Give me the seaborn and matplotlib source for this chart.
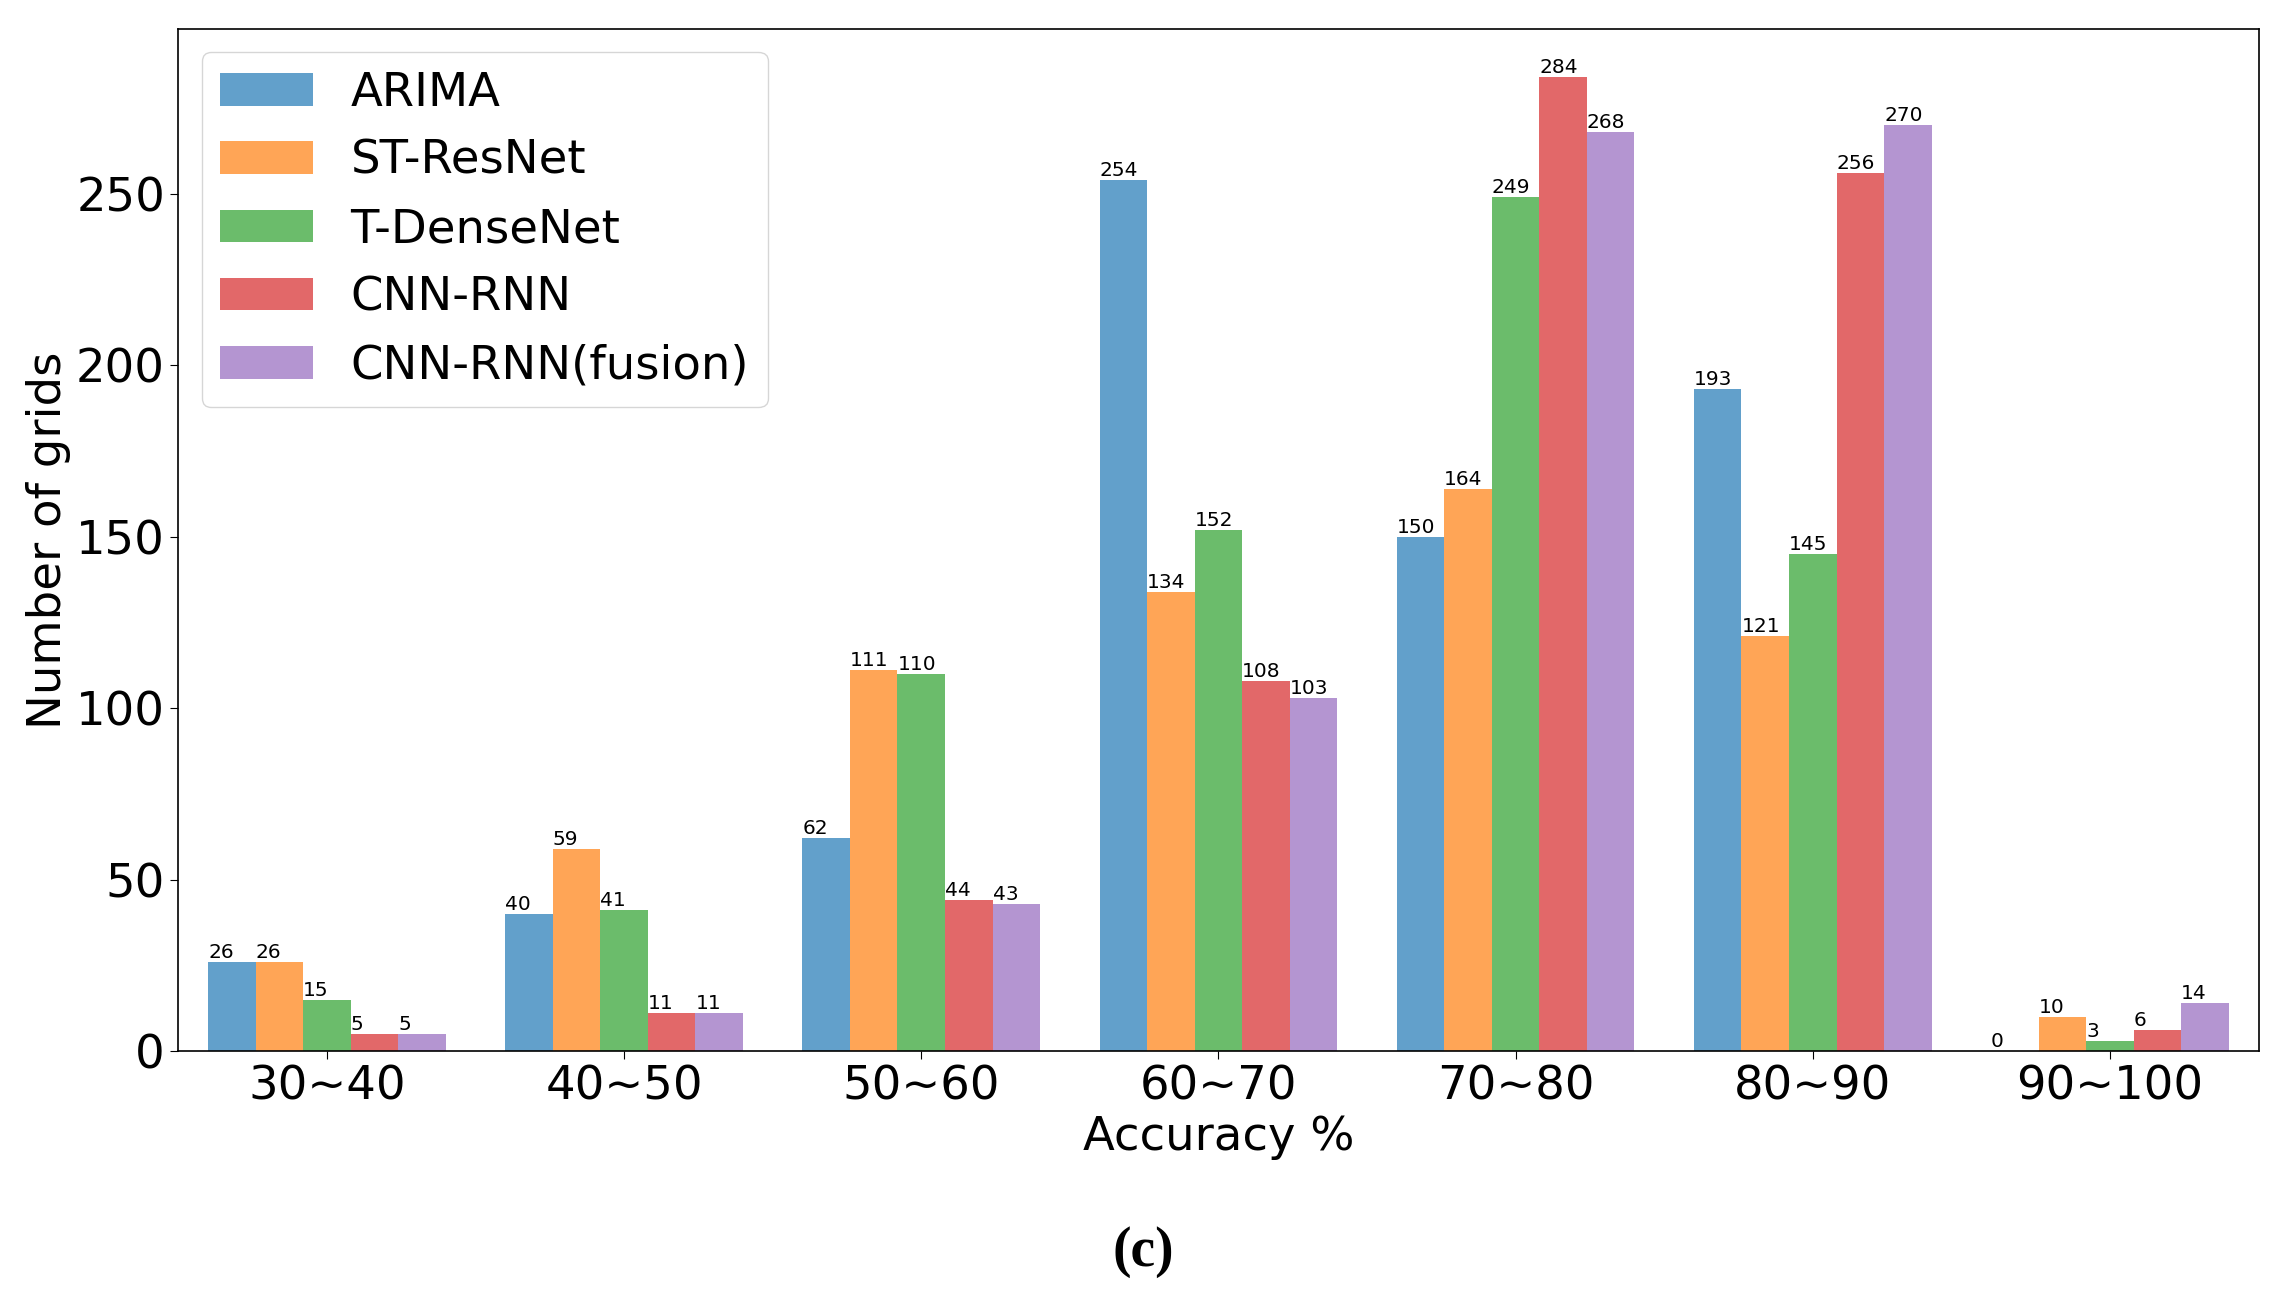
import numpy as np
import pandas as pd
import matplotlib
matplotlib.use("Agg")
import matplotlib.pyplot as plt
import seaborn as sns

# ------------------------------
# Data
# ------------------------------
bins = ['30~40', '40~50', '50~60', '60~70', '70~80', '80~90', '90~100']
models = ['ARIMA', 'ST-ResNet', 'T-DenseNet', 'CNN-RNN', 'CNN-RNN(fusion)']

arima = [26, 40, 62, 254, 150, 193, 0]
st_resnet = [26, 59, 111, 134, 164, 121, 10]
t_densenet = [15, 41, 110, 152, 249, 145, 3]
cnn_rnn = [5, 11, 44, 108, 284, 256, 6]
cnn_rnn_fusion = [5, 11, 43, 103, 268, 270, 14]

series = [arima, st_resnet, t_densenet, cnn_rnn, cnn_rnn_fusion]
rows = []
for m, vals in zip(models, series):
    for b, v in zip(bins, vals):
        rows.append({'bin': b, 'model': m, 'count': v})
df = pd.DataFrame(rows)

# tab10 colours drawn at alpha 0.7 over white
palette = [tuple(0.7 * np.array(c) + 0.3) for c in sns.color_palette("tab10", 5)]

# ------------------------------
# Plot
# ------------------------------
fig = plt.figure(figsize=(22.86, 13.04), dpi=100)
ax = fig.add_axes([0.078, 0.194, 0.91, 0.784])

sns.barplot(data=df, x='bin', y='count', hue='model', hue_order=models,
            order=bins, palette=palette, saturation=1, errorbar=None,
            width=0.8, linewidth=0, ax=ax)

for cont in ax.containers:
    for bar in cont:
        h = bar.get_height()
        ax.text(bar.get_x(), h, str(int(round(h))), ha='left', va='bottom', fontsize=14.5)

ax.set_xlim(-0.5, len(bins) - 0.5)
ax.set_ylim(0, 298.2)
ax.set_xlabel("Accuracy %", fontsize=33.5)
ax.set_ylabel("Number of grids", fontsize=33.5)
ax.tick_params(axis='both', labelsize=33.5, length=6)
ax.set_yticks([0, 50, 100, 150, 200, 250])

for s in ax.spines.values():
    s.set_color('black')
    s.set_linewidth(1.2)

ax.legend(loc='upper left', fontsize=33.5, title=None)

fig.text(0.5, 0.04, "(c)", ha='center', va='center', fontsize=40,
         fontweight='bold', family='Liberation Serif')

plt.savefig("out.png", dpi=100)
